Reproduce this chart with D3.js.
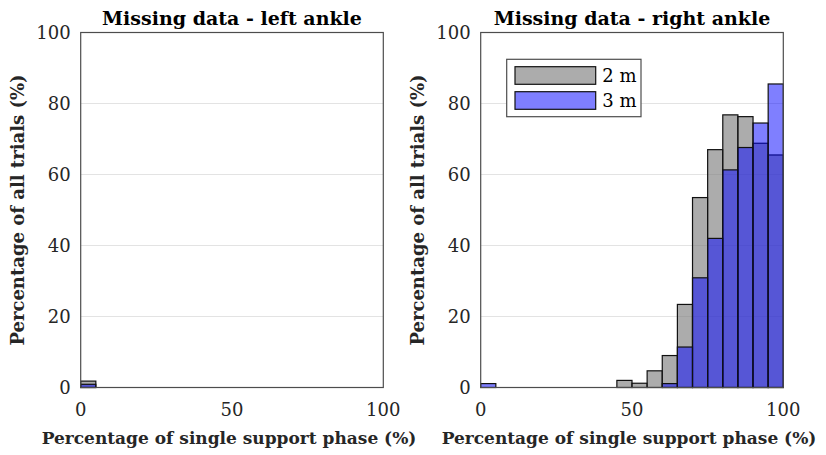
<!DOCTYPE html>
<html>
<head>
<meta charset="utf-8">
<script src="https://cdn.jsdelivr.net/npm/d3@7"></script>
<style>
  body { margin: 0; background: #fff; }
  svg text { font-family: "DejaVu Serif", serif; fill: #262626; }
</style>
</head>
<body>
<div id="app"></div>
<script>
// histogram bins: 0-5, 5-10, ... 95-100 (% of single support phase)
const binEdges = d3.range(0, 101, 5);
const yTicks = [0, 20, 40, 60, 80, 100];
const xTicks = [0, 50, 100];
const seriesNames = ['2 m', '3 m'];

const left2m = [1.8, 0, 0, 0, 0, 0, 0, 0, 0, 0, 0, 0, 0, 0, 0, 0, 0, 0, 0, 0];
const left3m = [0.9, 0, 0, 0, 0, 0, 0, 0, 0, 0, 0, 0, 0, 0, 0, 0, 0, 0, 0, 0];
const right2m = [0, 0, 0, 0, 0, 0, 0, 0, 0, 2.0, 1.2, 4.7, 9.0, 23.4, 53.5, 67.0, 76.8, 76.3, 68.8, 65.5];
const right3m = [1.1, 0, 0, 0, 0, 0, 0, 0, 0, 0, 0, 0, 1.1, 11.4, 30.9, 42.0, 61.3, 67.6, 74.5, 85.5];

const width = 826;
const height = 455;
const plotTop = 32.5;
const plotBottom = 387.5;

const panels = [
  { title: 'Missing data - left ankle', x0: 80.7, x1: 383.3, a: left2m, b: left3m, legend: false },
  { title: 'Missing data - right ankle', x0: 480.7, x1: 783.3, a: right2m, b: right3m, legend: true }
];

const styles = [
  { fill: '#808080', opacity: 0.65 },
  { fill: '#0000ff', opacity: 0.5 }
];

const svg = d3.select('#app').append('svg')
  .attr('width', width)
  .attr('height', height);

const y = d3.scaleLinear().domain([0, 100]).range([plotBottom, plotTop]);

panels.forEach(p => {
  const x = d3.scaleLinear().domain([0, 100]).range([p.x0, p.x1]);
  const g = svg.append('g');

  // grid
  g.append('g')
    .selectAll('line')
    .data(yTicks.filter(t => t > 0 && t < 100))
    .join('line')
    .attr('x1', p.x0).attr('x2', p.x1)
    .attr('y1', d => y(d)).attr('y2', d => y(d))
    .attr('stroke', '#e3e3e3')
    .attr('stroke-width', 1);

  // bars
  [p.a, p.b].forEach((vals, si) => {
    const bins = vals.map((v, i) => ({ lo: binEdges[i], hi: binEdges[i + 1], v }))
      .filter(d => d.v > 0);
    g.append('g')
      .selectAll('rect')
      .data(bins)
      .join('rect')
      .attr('x', d => x(d.lo))
      .attr('width', d => x(d.hi) - x(d.lo))
      .attr('y', d => y(d.v))
      .attr('height', d => y(0) - y(d.v))
      .attr('fill', styles[si].fill)
      .attr('fill-opacity', styles[si].opacity)
      .attr('stroke', '#111')
      .attr('stroke-width', 1.2);
  });

  // frame
  g.append('rect')
    .attr('x', p.x0).attr('y', plotTop)
    .attr('width', p.x1 - p.x0).attr('height', plotBottom - plotTop)
    .attr('fill', 'none')
    .attr('stroke', '#4d4d4d')
    .attr('stroke-width', 1.2);

  // y ticks
  g.append('g')
    .selectAll('text')
    .data(yTicks)
    .join('text')
    .attr('x', p.x0 - 10)
    .attr('y', d => y(d))
    .attr('dy', '0.35em')
    .attr('text-anchor', 'end')
    .style('font-size', '18px')
    .text(d => d);

  // x ticks
  g.append('g')
    .selectAll('text')
    .data(xTicks)
    .join('text')
    .attr('x', d => x(d))
    .attr('y', 410)
    .attr('dy', '0.35em')
    .attr('text-anchor', 'middle')
    .style('font-size', '18px')
    .text(d => d);

  // title
  g.append('text')
    .attr('x', (p.x0 + p.x1) / 2)
    .attr('y', 25)
    .attr('text-anchor', 'middle')
    .style('font-size', '19px')
    .style('font-weight', 'bold')
    .style('fill', '#000')
    .text(p.title);

  // x label
  g.append('text')
    .attr('x', (p.x0 + p.x1) / 2 - 3)
    .attr('y', 438)
    .attr('dy', '0.35em')
    .attr('text-anchor', 'middle')
    .style('font-size', '17px')
    .style('font-weight', 'bold')
    .text('Percentage of single support phase (%)');

  // y label
  g.append('text')
    .attr('transform', `translate(${p.x0 - 63},${(plotTop + plotBottom) / 2}) rotate(-90)`)
    .attr('dy', '0.35em')
    .attr('text-anchor', 'middle')
    .style('font-size', '18px')
    .style('font-weight', 'bold')
    .text('Percentage of all trials (%)');

  if (p.legend) {
    const lg = g.append('g');
    lg.append('rect')
      .attr('x', 506.7).attr('y', 59.3)
      .attr('width', 134.3).attr('height', 57.4)
      .attr('fill', '#fff')
      .attr('stroke', '#4d4d4d')
      .attr('stroke-width', 1.2);
    seriesNames.forEach((name, i) => {
      const yy = 66.7 + i * 25;
      lg.append('rect')
        .attr('x', 515).attr('y', yy)
        .attr('width', 80.7).attr('height', 17.6)
        .attr('fill', styles[i].fill)
        .attr('fill-opacity', styles[i].opacity)
        .attr('stroke', '#111')
        .attr('stroke-width', 1.2);
      lg.append('text')
        .attr('x', 602.3)
        .attr('y', yy + 8.8)
        .attr('dy', '0.35em')
        .style('font-size', '18px')
        .style('fill', '#000')
        .text(name);
    });
  }
});
</script>
</body>
</html>
